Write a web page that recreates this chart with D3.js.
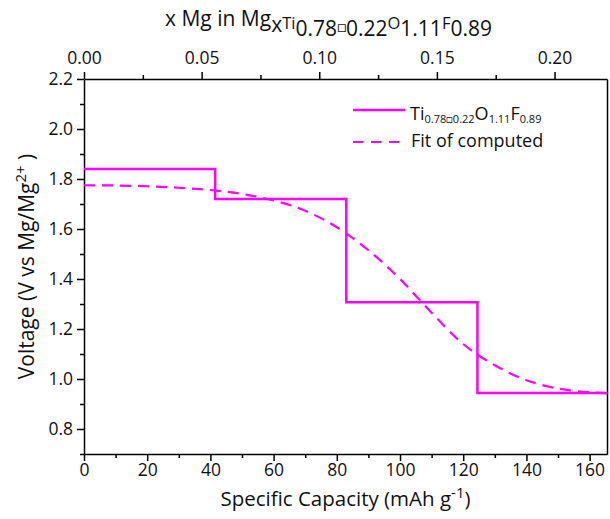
<!DOCTYPE html>
<html>
<head>
    <meta charset="utf-8" />
    <title>Voltage profile</title>
    <style>
        body { margin: 0; background-color: white; }
        text { font-family: "Open Sans", Lato, sans-serif; fill: #111; }
        .axis path, .axis line { stroke: #000; stroke-width: 1.5px; }
        .axis text { font-size: 17.5px; font-family: "Open Sans", Lato, sans-serif; fill: #111; }
    </style>
    <script src="https://cdnjs.cloudflare.com/ajax/libs/d3/7.8.5/d3.min.js"></script>
</head>
<body>
    <script>
        // step profile (capacity edges, voltage plateaus)
        var stepCapacity = [0, 41.5, 41.5, 83, 83, 124.5, 124.5, 165.5];
        var stepVoltage  = [1.84, 1.84, 1.72, 1.72, 1.307, 1.307, 0.944, 0.944];

        // fitted curve
        var fitCapacity = [0, 10, 20, 30, 40, 50, 60, 70, 80, 90, 100, 110, 120, 130, 140, 150, 160, 165.5];
        var fitVoltage  = [1.775, 1.774, 1.771, 1.765, 1.756, 1.74, 1.714, 1.673, 1.607, 1.515, 1.4, 1.265, 1.14, 1.055, 0.995, 0.962, 0.947, 0.943];

        var bottomTicks = [0, 20, 40, 60, 80, 100, 120, 140, 160];
        var bottomMinor = [10, 30, 50, 70, 90, 110, 130, 150];
        var topTicks = [0, 0.05, 0.10, 0.15, 0.20];
        var topMinor = [0.025, 0.075, 0.125, 0.175];
        var leftTicks = [0.8, 1.0, 1.2, 1.4, 1.6, 1.8, 2.0, 2.2];
        var leftMinor = [0.7, 0.9, 1.1, 1.3, 1.5, 1.7, 1.9, 2.1];

        var width = 610, height = 519;
        var margin = {left: 84, right: 3, top: 79, bottom: 65};
        var lineColor = "#ff00ff";

        var svg = d3.select("body").append("svg")
            .attr("width", width)
            .attr("height", height);

        var x = d3.scaleLinear().domain([0, 165.5]).range([margin.left, width - margin.right]);
        var xTop = d3.scaleLinear().domain([0, 0.2223]).range([margin.left, width - margin.right]);
        var y = d3.scaleLinear().domain([0.7, 2.2]).range([height - margin.bottom, margin.top]);

        // minor ticks first
        svg.append("g").attr("class", "axis")
            .attr("transform", "translate(0," + y.range()[0] + ")")
            .call(d3.axisBottom(x).tickValues(bottomMinor).tickSize(4).tickFormat(""))
            .select(".domain").remove();
        svg.append("g").attr("class", "axis")
            .attr("transform", "translate(0," + y.range()[1] + ")")
            .call(d3.axisTop(xTop).tickValues(topMinor).tickSize(4).tickFormat(""))
            .select(".domain").remove();
        svg.append("g").attr("class", "axis")
            .attr("transform", "translate(" + x.range()[0] + ",0)")
            .call(d3.axisLeft(y).tickValues(leftMinor).tickSize(4).tickFormat(""))
            .select(".domain").remove();

        // major axes
        svg.append("g").attr("class", "axis")
            .attr("transform", "translate(0," + y.range()[0] + ")")
            .call(d3.axisBottom(x).tickValues(bottomTicks).tickSize(7).tickSizeOuter(0).tickPadding(3).tickFormat(d3.format("d")));
        svg.append("g").attr("class", "axis")
            .attr("transform", "translate(0," + y.range()[1] + ")")
            .call(d3.axisTop(xTop).tickValues(topTicks).tickSize(7).tickSizeOuter(0).tickPadding(8).tickFormat(d3.format(".2f")));
        svg.append("g").attr("class", "axis")
            .attr("transform", "translate(" + x.range()[0] + ",0)")
            .call(d3.axisLeft(y).tickValues(leftTicks).tickSize(7).tickSizeOuter(0).tickPadding(4).tickFormat(d3.format(".1f")));
        svg.append("g").attr("class", "axis")
            .attr("transform", "translate(" + x.range()[1] + ",0)")
            .call(d3.axisRight(y).tickValues([]).tickSizeOuter(0));

        // step line
        var stepPts = stepCapacity.map(function(c, i) { return [c, stepVoltage[i]]; });
        svg.append("path")
            .datum(stepPts)
            .attr("fill", "none")
            .attr("stroke", lineColor)
            .attr("stroke-width", 2.5)
            .attr("d", d3.line().x(d => x(d[0])).y(d => y(d[1])));

        // fit curve
        var fitPts = fitCapacity.map(function(c, i) { return [c, fitVoltage[i]]; });
        svg.append("path")
            .datum(fitPts)
            .attr("fill", "none")
            .attr("stroke", lineColor)
            .attr("stroke-width", 2.2)
            .attr("stroke-dasharray", "11,7")
            .attr("d", d3.line().curve(d3.curveMonotoneX).x(d => x(d[0])).y(d => y(d[1])));

        // legend
        var legend = svg.append("g");
        legend.append("line")
            .attr("x1", 353).attr("x2", 405).attr("y1", 110).attr("y2", 110)
            .attr("stroke", lineColor).attr("stroke-width", 2.5);
        legend.append("line")
            .attr("x1", 353).attr("x2", 405).attr("y1", 142).attr("y2", 142)
            .attr("stroke", lineColor).attr("stroke-width", 2.2)
            .attr("stroke-dasharray", "10,8");
        var lt = legend.append("text").attr("x", 410).attr("y", 120).style("font-size", "18px");
        lt.append("tspan").text("Ti");
        lt.append("tspan").attr("dy", 3).style("font-size", "11px").text("0.78");
        lt.append("tspan").attr("dy", 0).style("font-size", "11px").text("\u25A1");
        lt.append("tspan").style("font-size", "11px").text("0.22");
        lt.append("tspan").attr("dy", -3).text("O");
        lt.append("tspan").attr("dy", 3).style("font-size", "11px").text("1.11");
        lt.append("tspan").attr("dy", -3).text("F");
        lt.append("tspan").attr("dy", 3).style("font-size", "11px").text("0.89");
        legend.append("text").attr("x", 411).attr("y", 147).style("font-size", "18px").text("Fit of computed");

        // top title
        var tt = svg.append("text").attr("x", 165).attr("y", 26).style("font-size", "21px");
        tt.append("tspan").text("x Mg in Mg");
        tt.append("tspan").attr("dy", 6).text("x");
        tt.append("tspan").attr("dy", -3).style("font-size", "16.5px").text("Ti");
        tt.append("tspan").attr("dy", 7).text("0.78");
        tt.append("tspan").attr("dy", -4).style("font-size", "15px").text("\u25A1");
        tt.append("tspan").attr("dy", 4).text("0.22");
        tt.append("tspan").attr("dy", -7).style("font-size", "16.5px").text("O");
        tt.append("tspan").attr("dy", 7).text("1.11");
        tt.append("tspan").attr("dy", -7).style("font-size", "16.5px").text("F");
        tt.append("tspan").attr("dy", 7).text("0.89");

        // bottom title
        var bt = svg.append("text")
            .attr("x", (x.range()[0] + x.range()[1]) / 2)
            .attr("y", 506)
            .attr("text-anchor", "middle")
            .style("font-size", "20.5px");
        bt.append("tspan").text("Specific Capacity (mAh g");
        bt.append("tspan").attr("dy", -8).style("font-size", "15px").text("-1");
        bt.append("tspan").attr("dy", 8).text(")");

        // y title
        var yt = svg.append("text")
            .attr("transform", "translate(34," + ((y.range()[0] + y.range()[1]) / 2) + ") rotate(-90)")
            .attr("text-anchor", "middle")
            .style("font-size", "21px");
        yt.append("tspan").text("Voltage (V vs Mg/Mg");
        yt.append("tspan").attr("dy", -8).style("font-size", "15px").text("2+");
        yt.append("tspan").attr("dy", 8).text(" )");
    </script>
</body>
</html>
